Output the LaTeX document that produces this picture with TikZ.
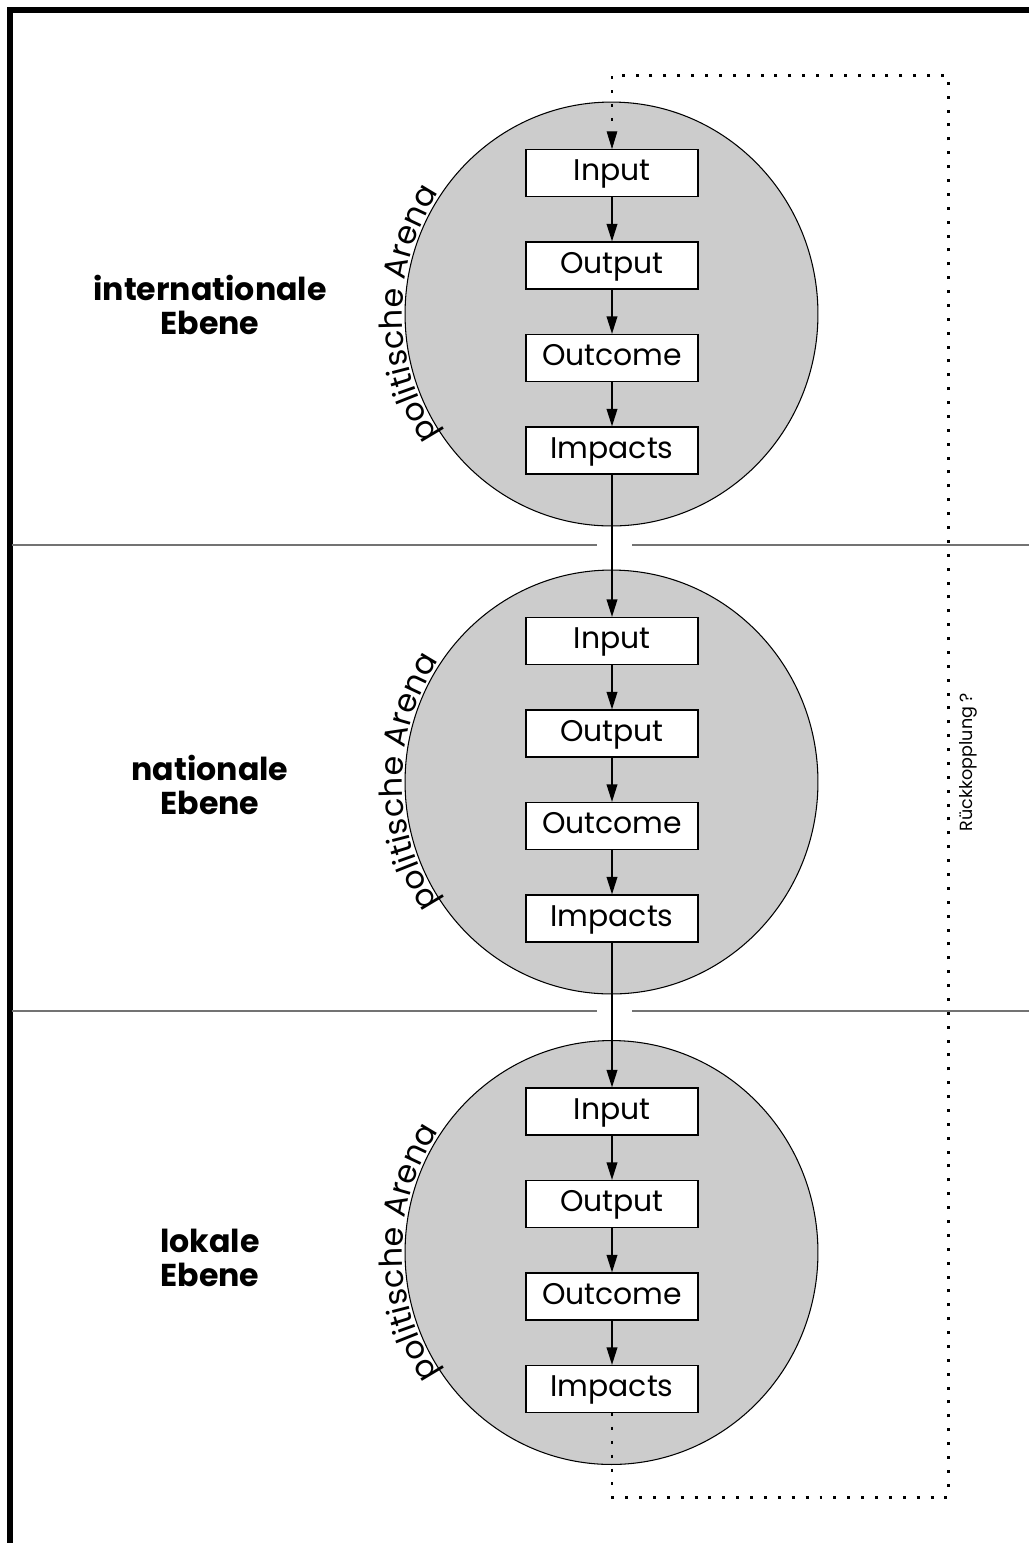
\documentclass[tikz,border=0pt]{standalone}
\usepackage{fontspec}
\setmainfont{Poppins}
\usetikzlibrary{arrows.meta,shapes.geometric,decorations.text}
\tikzset{%
	arena/.style={
		ellipse,
		draw=black,
		fill=black!20,
		line width=0.6pt,
		minimum width=8.26cm,
		minimum height=8.48cm
	},
	stage box/.style={
		rectangle,
		draw=black,
		fill=white,
		line width=0.6pt,
		inner sep=0pt,
		minimum width=3.44cm,
		minimum height=0.94cm,
		text height=11pt,
		text depth=2pt,
		font=\fontsize{17}{20}\selectfont
	},
	level label/.style={
		align=center,
		font=\bfseries\fontsize{18}{19}\selectfont
	},
	flow/.style={
		line width=1.1pt,
		-{Triangle[length=10pt,width=6pt]}
	},
	feedback/.style={
		line width=1.7pt,
		dash pattern=on 1.7pt off 6.2pt,
		-{Triangle[length=10pt,width=6pt,line width=0.4pt]}
	},
	separator/.style={
		draw=black!55,
		line width=0.6pt
	},
}

\begin{document}
\begin{tikzpicture}[x=0.02cm,y=0.02cm]
		\useasboundingbox (0,0) rectangle (1029,-1543);
		% Frame and separators
		\draw[line width=3.4pt] (1029,-10) -- (10,-10) -- (10,-1543);
		\foreach \sy in {-545,-1011} {
		\draw[separator] (12,\sy) -- (597,\sy);
		\draw[separator] (632,\sy) -- (1029,\sy);
		}
		
		% Levels
		\foreach \l/\cy/\ly/\lname in {1/-314/-305/internationale,2/-782/-785/nationale,3/-1252.5/-1258/lokale} {
		\node[arena] (arena-\l) at (611.5,\cy) {};
		\path[decorate,decoration={text along path,text align=center,raise=1.5pt,
			text={|\fontsize{18}{21}\selectfont|politische Arena}}]
			(arena-\l.center) ++(225:206.5 and 212) arc[start angle=225,end angle=135,x radius=206.5,y radius=212];
		\node[level label] (label-\l) at (210,\ly) {\lname\\Ebene};
		\foreach \s [count=\k] in {Input,Output,Outcome,Impacts}
		\node[stage box] (stage-\l-\k) at (612,\cy+233.5-92.5*\k) {\s};
		}
		\node[rotate=90,font=\fontsize{10}{12}\selectfont] (fb-label) at (968,-762) {Rückkopplung ?};
		
		%Edges
		\foreach \l in {1,2,3}
		\foreach \a/\b in {1/2,2/3,3/4}
		\draw[flow] (stage-\l-\a.south) -- (stage-\l-\b.north);
		
		\draw[flow] (stage-1-4.south) -- (stage-2-1.north);
		\draw[flow] (stage-2-4.south) -- (stage-3-1.north);
		
		\coordinate (fb-low) at (948,-1497);
		\coordinate (fb-high) at (948,-75);
		\draw[feedback] (stage-3-4.south) |- (fb-low) -- (fb-high) -| (stage-1-1.north);
		
		\end{tikzpicture}
\end{document}
